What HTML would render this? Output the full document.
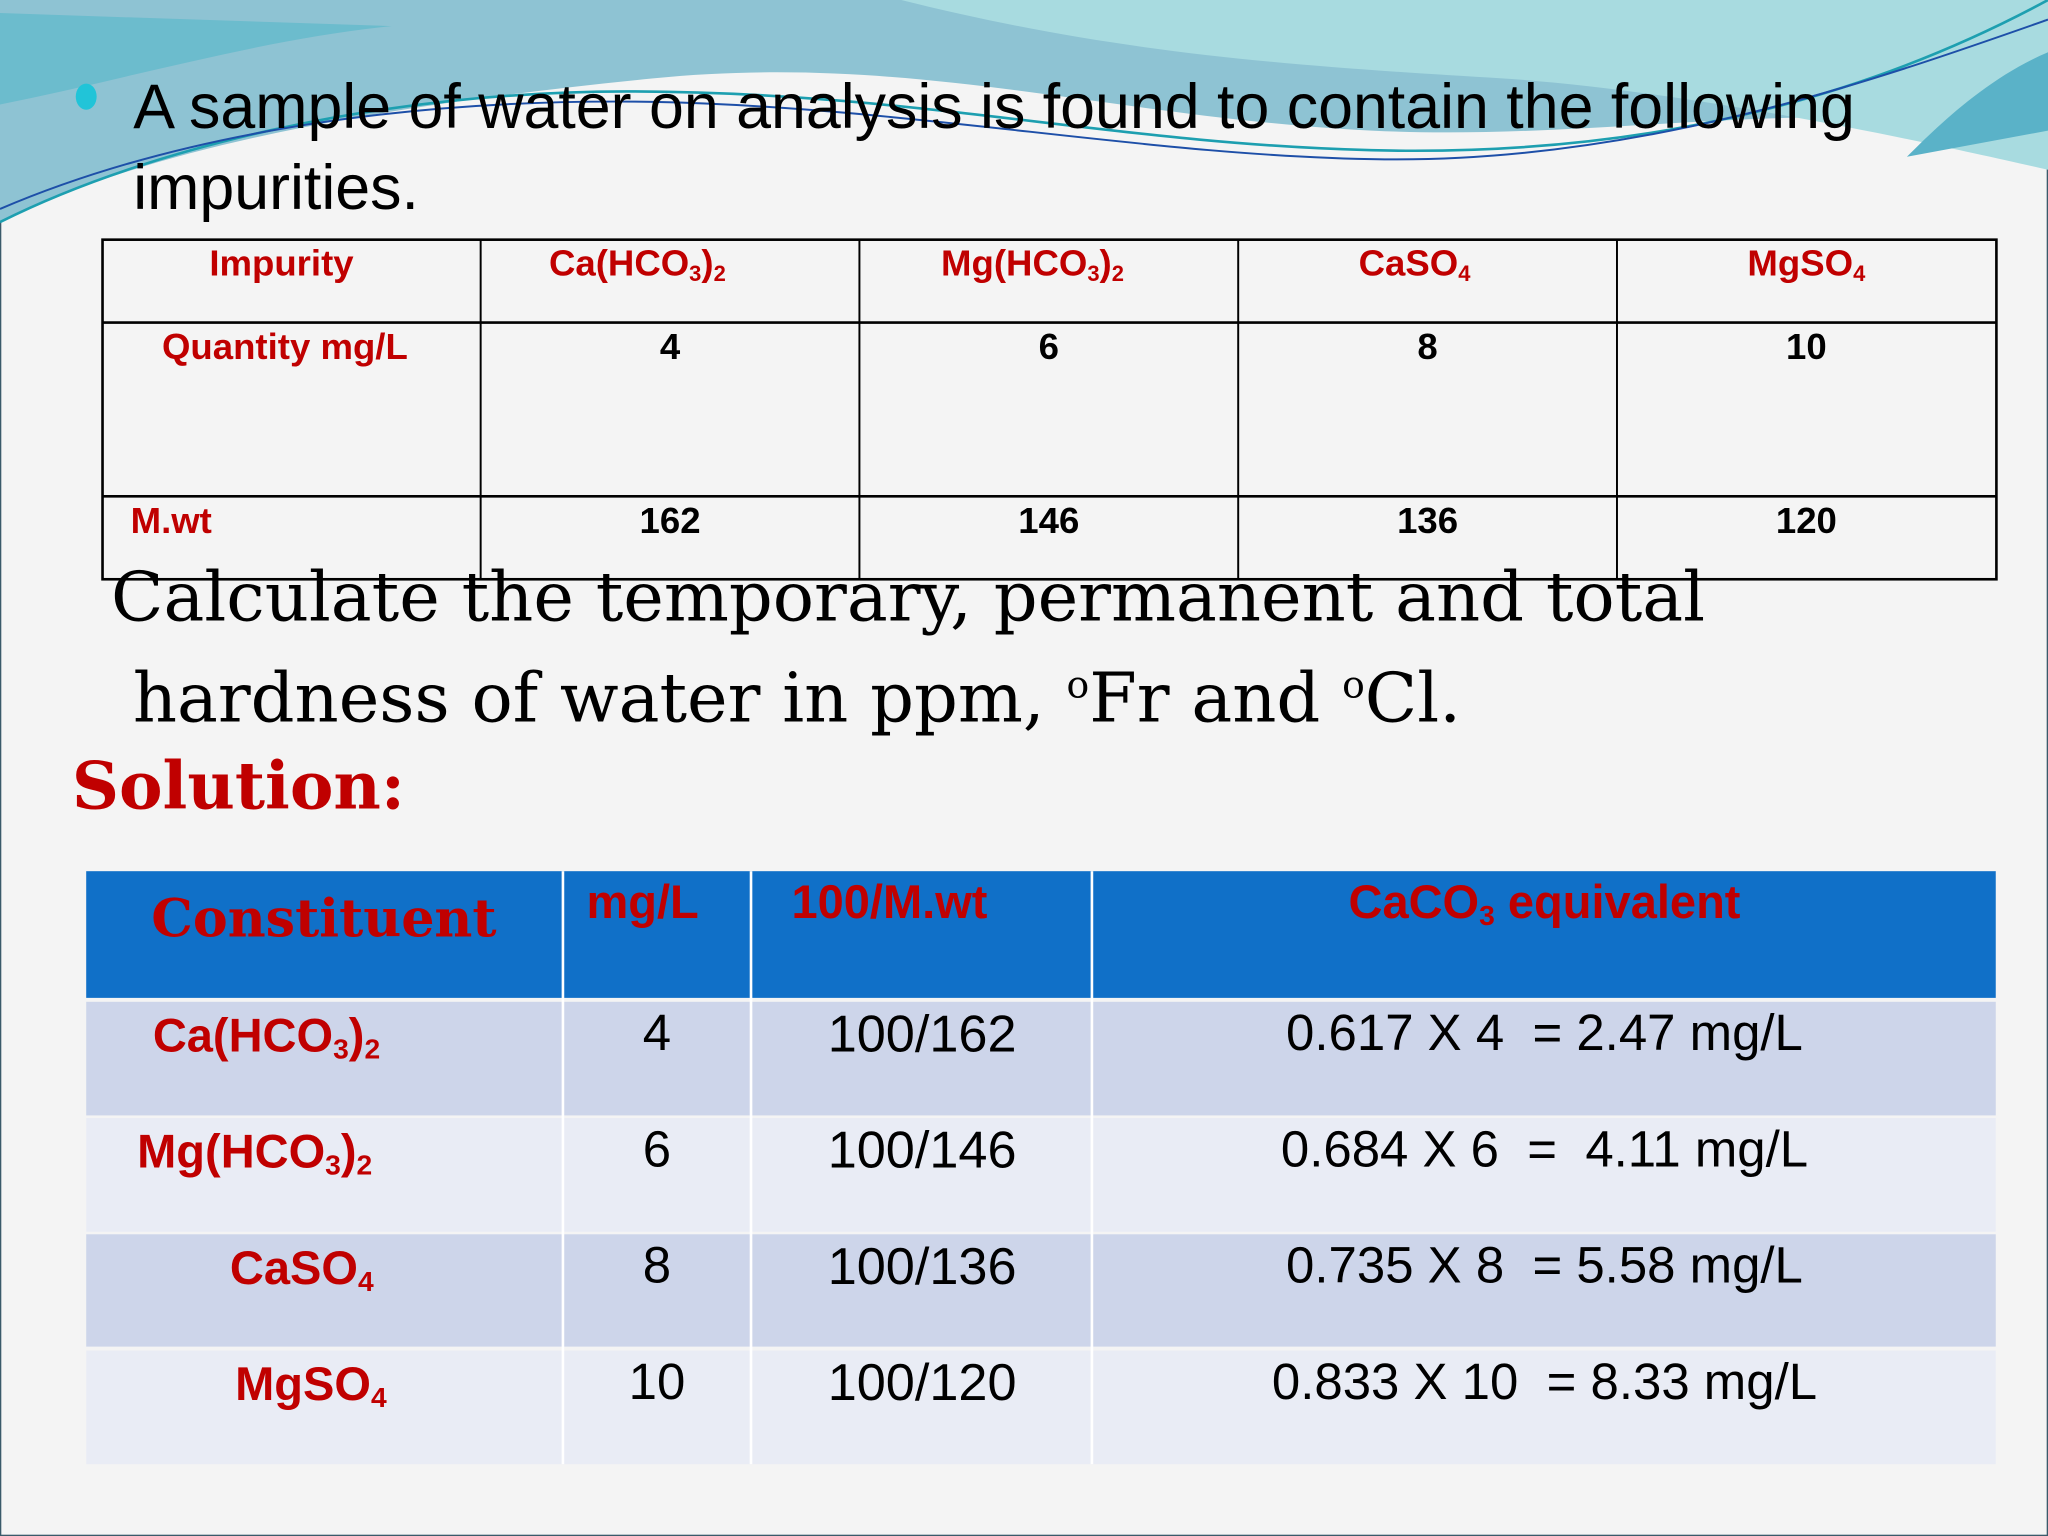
<!DOCTYPE html>
<html><head><meta charset="utf-8">
<style>
html,body{margin:0;padding:0;width:2048px;height:1536px;overflow:hidden;background:#f4f4f4;}
#s{position:absolute;left:0;top:0;width:1568px;height:1176px;transform:scale(1.306122);transform-origin:0 0;font-family:"Liberation Sans",sans-serif;}
.t{position:absolute;white-space:nowrap;}
.red{color:#c00000;font-weight:bold;}
.c{text-align:center;}
sub{font-size:60%;vertical-align:-0.25em;line-height:0;}
.cell{position:absolute;box-sizing:border-box;}
</style></head><body>
<div id="s">
<svg width="1568" height="1176" style="position:absolute;left:0;top:0">
<rect x="0.5" y="0.5" width="1567" height="1175" fill="#f4f4f4" stroke="#3a5a6a" stroke-width="1"/>
<path d="M0,0 L1568,0 L1568,120 C1450,60 1250,110 1050,100 C850,90 700,40 500,60 C300,80 120,110 0,170 Z" fill="#8ec3d3"/>
<path d="M690,0 L1568,0 L1568,130 C1480,110 1300,70 1150,60 C980,50 850,40 690,0 Z" fill="#a8dbe0"/>
<path d="M0,80 C100,60 200,30 300,20 L0,10 Z" fill="#6cbccd"/>
<path d="M0,170 C120,110 300,70 480,70 C700,70 850,110 1050,115 C1250,120 1420,80 1568,0" fill="none" stroke="#1d9fb0" stroke-width="2"/>
<path d="M0,160 C140,100 320,75 500,78 C700,82 880,120 1060,122 C1260,124 1440,60 1568,15" fill="none" stroke="#1d4fa8" stroke-width="1.5"/>
<path d="M1568,40 C1520,60 1480,100 1460,120 L1568,100 Z" fill="#5ab2c8"/>
</svg>
<div class="t" style="left:58px;top:64px;width:16px;height:20px;border-radius:50%;background:#21c4d8"></div>
<div class="t" style="left:102px;top:52px;font-size:48px;line-height:62px;color:#000">A sample of water on analysis is found to contain the following<br>impurities.</div>

<div>
<svg width="1568" height="1176" style="position:absolute;left:0;top:0">
<rect x="78.5" y="183.5" width="1450" height="260" fill="none" stroke="#000" stroke-width="2"/>
<line x1="78" y1="247" x2="1529" y2="247" stroke="#000" stroke-width="2"/>
<line x1="78" y1="380" x2="1529" y2="380" stroke="#000" stroke-width="2"/>
<line x1="368" y1="183" x2="368" y2="444" stroke="#000" stroke-width="1.5"/>
<line x1="658" y1="183" x2="658" y2="444" stroke="#000" stroke-width="1.5"/>
<line x1="948" y1="183" x2="948" y2="444" stroke="#000" stroke-width="1.5"/>
<line x1="1238" y1="183" x2="1238" y2="444" stroke="#000" stroke-width="1.5"/>
</svg>
<div class="t red c" style="left:78px;width:275px;top:186px;font-size:28px">Impurity</div>
<div class="t red c" style="left:368px;width:240px;top:186px;font-size:28px">Ca(HCO<sub>3</sub>)<sub>2</sub></div>
<div class="t red c" style="left:658px;width:265px;top:186px;font-size:28px">Mg(HCO<sub>3</sub>)<sub>2</sub></div>
<div class="t red c" style="left:948px;width:270px;top:186px;font-size:28px">CaSO<sub>4</sub></div>
<div class="t red c" style="left:1238px;width:290px;top:186px;font-size:28px">MgSO<sub>4</sub></div>
<div class="t red" style="left:124px;top:250px;font-size:28px">Quantity mg/L</div>
<div class="t c" style="left:368px;width:290px;top:250px;font-size:28px;font-weight:bold">4</div>
<div class="t c" style="left:658px;width:290px;top:250px;font-size:28px;font-weight:bold">6</div>
<div class="t c" style="left:948px;width:290px;top:250px;font-size:28px;font-weight:bold">8</div>
<div class="t c" style="left:1238px;width:290px;top:250px;font-size:28px;font-weight:bold">10</div>
<div class="t red" style="left:100px;top:383px;font-size:28px">M.wt</div>
<div class="t c" style="left:368px;width:290px;top:383px;font-size:28px;font-weight:bold">162</div>
<div class="t c" style="left:658px;width:290px;top:383px;font-size:28px;font-weight:bold">146</div>
<div class="t c" style="left:948px;width:290px;top:383px;font-size:28px;font-weight:bold">136</div>
<div class="t c" style="left:1238px;width:290px;top:383px;font-size:28px;font-weight:bold">120</div>
</div>

<div class="t" style="left:85px;top:424px;font-family:'DejaVu Serif','Liberation Serif',serif;font-size:52.5px;line-height:67px;color:#000">Calculate the temporary, permanent and total<br>&nbsp;hardness of water in ppm, <sup style="font-size:55%">o</sup>Fr and <sup style="font-size:55%">o</sup>Cl.</div>
<div class="t" style="left:55px;top:572px;font-family:'DejaVu Serif','Liberation Serif',serif;font-size:50px;font-weight:bold;color:#c00000">Solution:</div>

<div>
<div class="cell" style="left:66px;top:667px;width:1462px;height:97px;background:#1070c8"></div>
<div class="cell" style="left:66px;top:767px;width:1462px;height:87px;background:#cdd5ea"></div>
<div class="cell" style="left:66px;top:856px;width:1462px;height:87px;background:#e9ecf5"></div>
<div class="cell" style="left:66px;top:945px;width:1462px;height:86px;background:#cdd5ea"></div>
<div class="cell" style="left:66px;top:1034px;width:1462px;height:87px;background:#e9ecf5"></div>
<div class="cell" style="left:430px;top:667px;width:2px;height:454px;background:#fff"></div>
<div class="cell" style="left:574px;top:667px;width:2px;height:454px;background:#fff"></div>
<div class="cell" style="left:835px;top:667px;width:2px;height:454px;background:#fff"></div>
<div class="t red c" style="left:66px;width:364px;top:680px;font-family:'DejaVu Serif','Liberation Serif',serif;font-size:40px">Constituent</div>
<div class="t red c" style="left:432px;width:120px;top:670px;font-size:36px">mg/L</div>
<div class="t red c" style="left:576px;width:210px;top:670px;font-size:36px">100/M.wt</div>
<div class="t red c" style="left:837px;width:691px;top:670px;font-size:36px">CaCO<sub>3</sub> equivalent</div>

<div class="t red" style="left:117px;top:772px;font-size:36px">Ca(HCO<sub>3</sub>)<sub>2</sub></div>
<div class="t red" style="left:105px;top:861px;font-size:36px">Mg(HCO<sub>3</sub>)<sub>2</sub></div>
<div class="t red" style="left:176px;top:950px;font-size:36px">CaSO<sub>4</sub></div>
<div class="t red" style="left:180px;top:1039px;font-size:36px">MgSO<sub>4</sub></div>

<div class="t c" style="left:432px;width:142px;top:770px;font-size:39px">4</div>
<div class="t c" style="left:432px;width:142px;top:859px;font-size:39px">6</div>
<div class="t c" style="left:432px;width:142px;top:948px;font-size:39px">8</div>
<div class="t c" style="left:432px;width:142px;top:1037px;font-size:39px">10</div>

<div class="t c" style="left:576px;width:260px;top:770px;font-size:40px">100/162</div>
<div class="t c" style="left:576px;width:260px;top:859px;font-size:40px">100/146</div>
<div class="t c" style="left:576px;width:260px;top:948px;font-size:40px">100/136</div>
<div class="t c" style="left:576px;width:260px;top:1037px;font-size:40px">100/120</div>

<div class="t c" style="left:837px;width:691px;top:770px;font-size:39px;white-space:pre">0.617 X 4  = 2.47 mg/L</div>
<div class="t c" style="left:837px;width:691px;top:859px;font-size:39px;white-space:pre">0.684 X 6  =  4.11 mg/L</div>
<div class="t c" style="left:837px;width:691px;top:948px;font-size:39px;white-space:pre">0.735 X 8  = 5.58 mg/L</div>
<div class="t c" style="left:837px;width:691px;top:1037px;font-size:39px;white-space:pre">0.833 X 10  = 8.33 mg/L</div>
</div>
</div>
</body></html>
